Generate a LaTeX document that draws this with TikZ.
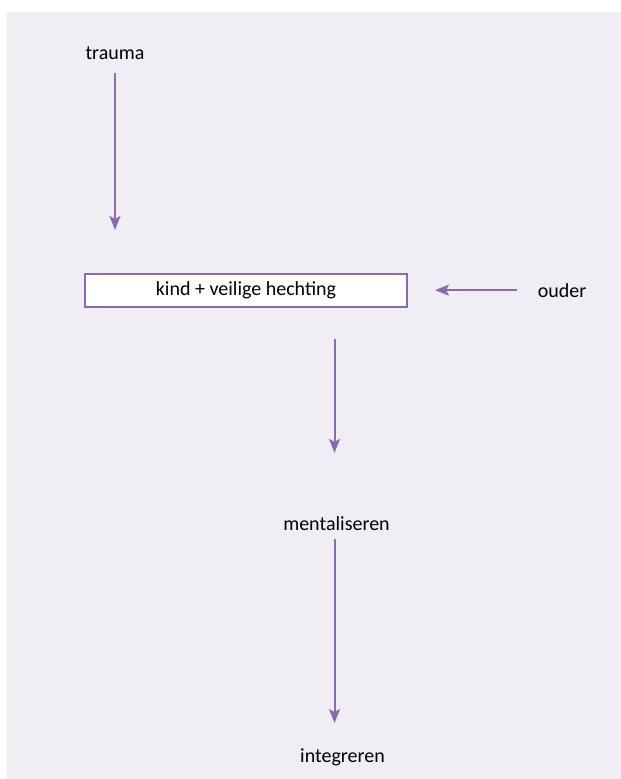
\documentclass[tikz,border=0pt]{standalone}
\usepackage{fontspec}
\setmainfont{Carlito}
\usepackage{tikz}
\usetikzlibrary{arrows.meta}
\definecolor{paars}{HTML}{8A6BAE}
\definecolor{lila}{HTML}{F0EDF5}
\def\vlak{(7,12) rectangle (625,785)}
\tikzset{
    woord/.style={font=\fontsize{20}{24}\selectfont, inner sep=0pt, anchor=base},
    kader/.style={draw=paars, fill=white, line width=2pt, minimum width=322pt, minimum height=33pt, inner sep=0pt, font=\fontsize{20}{24}\selectfont},
    pijl/.style={draw=paars, line width=2pt, -{Stealth[length=14pt,width=11pt,inset=3pt]}}
}

\begin{document}
\begin{tikzpicture}[x=1pt,y=-1pt]
    \useasboundingbox (0,0) rectangle (621,779);
    \fill[lila] \vlak;
    \node[woord] (trauma) at (115,59) {trauma};
    \node[kader] (kind) at (246,290.5) {kind + veilige hechting};
    \node[woord] (ouder) at (562,297) {ouder};
    \node[woord] (mentaliseren) at (336.5,530) {mentaliseren};
    \node[woord] (integreren) at (342.5,762) {integreren};
    \draw[pijl, shorten <=14pt, shorten >=43pt] (trauma.south) -- (trauma.south |- kind.north);
    \draw[pijl, shorten <=21pt, shorten >=27pt] (ouder.west) -- (ouder.west -| kind.east);
    \draw[pijl, shorten <=31pt, shorten >=63pt] ([xshift=-2pt]mentaliseren.north |- kind.south) -- ([xshift=-2pt]mentaliseren.north);
    \draw[pijl, shorten <=9pt, shorten >=25pt] ([xshift=-2pt]mentaliseren.south) -- ([xshift=-2pt]mentaliseren.south |- integreren.north);
\end{tikzpicture}
\end{document}
